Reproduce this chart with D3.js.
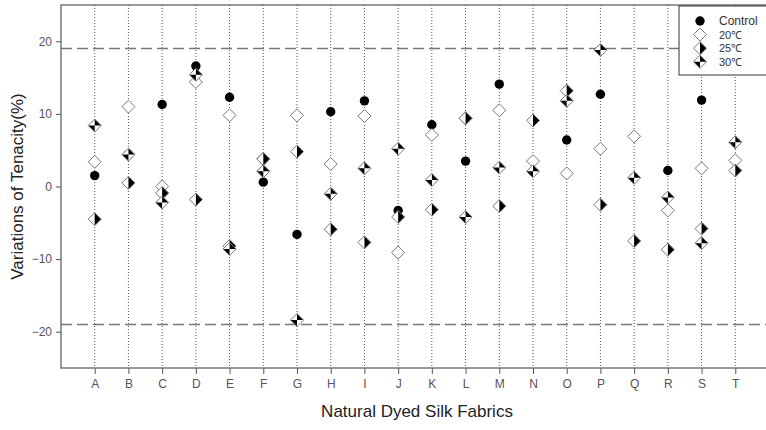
<!DOCTYPE html>
<html>
<head>
<meta charset="utf-8">
<script src="https://cdn.jsdelivr.net/npm/d3@7"></script>
<style>
	body { margin:0; background:#fff; }
	#chart { width:766px; height:430px; }
	text { font-family: "Liberation Sans", Arial, sans-serif; }
</style>
</head>
<body>
<div id="chart"></div>
<script>
var categories = ["A","B","C","D","E","F","G","H","I","J","K","L","M","N","O","P","Q","R","S","T"];
var control = [1.5, 4.4, 11.3, 16.6, 12.3, 0.6, -6.6, 10.3, 11.8, -3.3, 8.5, 3.5, 14.1, 2.1, 6.4, 12.7, 1.2, 2.2, 11.9, 2.2];
var t20 = [3.4, 11.0, 0.0, 14.4, 9.8, 3.8, 9.8, 3.1, 9.7, -9.1, 7.1, 9.4, 10.5, 3.5, 1.8, 5.2, 6.9, -3.3, 2.5, 3.6];
var t25 = [-4.5, 0.5, -0.9, -1.8, -8.2, 3.8, 4.8, -5.9, -7.7, -4.2, -3.2, 9.4, -2.7, 9.1, 13.2, -2.5, -7.5, -8.7, -5.8, 2.2];
var t30 = [8.4, 4.4, -2.2, 15.4, -8.6, 2.1, -18.4, -1.0, 2.5, 5.2, 0.9, -4.2, 2.6, 2.1, 11.8, 18.8, 1.2, -1.5, -7.8, 6.1];
var yTicks = [-20, -10, 0, 10, 20];
var limits = [19, -19];
var legendLabels = ["Control", "20\u2103", "25\u2103", "30\u2103"];

var dom = document.getElementById('chart');
var width = 766, height = 430;

var svg = d3.select(dom)
	.append("svg")
	.attr("width", width)
	.attr("height", height);

var padding = {left:61, right:-3, top:5, bottom:62};

var xScale = d3.scalePoint()
	.domain(categories)
	.range([padding.left, width - padding.right])
	.padding(1);

var yScale = d3.scaleLinear()
	.domain([-25, 25])
	.range([height - padding.bottom, padding.top]);

// dotted guide per fabric
svg.append("g")
	.selectAll("line")
	.data(categories)
	.enter()
	.append("line")
	.attr("x1", function(d){ return xScale(d); })
	.attr("x2", function(d){ return xScale(d); })
	.attr("y1", padding.top)
	.attr("y2", height - padding.bottom)
	.attr("stroke", "#555")
	.attr("stroke-width", 1)
	.attr("stroke-dasharray", "1,2");

// +-19 dashed lines
svg.append("g")
	.selectAll("line")
	.data(limits)
	.enter()
	.append("line")
	.attr("x1", padding.left)
	.attr("x2", width)
	.attr("y1", function(d){ return yScale(d); })
	.attr("y2", function(d){ return yScale(d); })
	.attr("stroke", "#777")
	.attr("stroke-width", 1.5)
	.attr("stroke-dasharray", "11,5");

// frame
svg.append("rect")
	.attr("x", padding.left)
	.attr("y", padding.top)
	.attr("width", width - padding.left + 10)
	.attr("height", height - padding.bottom - padding.top)
	.attr("fill", "none")
	.attr("stroke", "#555")
	.attr("stroke-width", 1.2);

var xAxis = d3.axisBottom()
	.scale(xScale)
	.tickSizeInner(6)
	.tickSizeOuter(0)
	.tickPadding(5);

var yAxis = d3.axisLeft()
	.scale(yScale)
	.tickValues(yTicks)
	.tickSizeInner(5)
	.tickSizeOuter(0)
	.tickPadding(4);

var gx = svg.append("g")
	.attr("transform", "translate(0," + (height - padding.bottom) + ")")
	.call(xAxis);
var gy = svg.append("g")
	.attr("transform", "translate(" + padding.left + ",0)")
	.call(yAxis);

[gx, gy].forEach(function(g){
	g.select(".domain").remove();
	g.selectAll("line").attr("stroke", "#555");
	g.selectAll("text")
		.attr("fill", "#555")
		.style("font-size", "12px")
		.style("font-family", "'Liberation Sans', Arial, sans-serif");
});

svg.append("text")
	.attr("x", 417)
	.attr("y", 417)
	.attr("text-anchor", "middle")
	.attr("fill", "#222")
	.style("font-size", "17px")
	.text("Natural Dyed Silk Fabrics");

svg.append("text")
	.attr("transform", "translate(23," + yScale(0) + ") rotate(-90)")
	.attr("text-anchor", "middle")
	.attr("fill", "#222")
	.style("font-size", "17px")
	.text("Variations of Tenacity(%)");

// marker shapes
var r = 6.5;
function diamond(){ return "M0," + (-r) + "L" + r + ",0L0," + r + "L" + (-r) + ",0Z"; }

function drawMarker(g, kind){
	if(kind == 0){
		g.append("circle").attr("r", 4.7).attr("fill", "#000");
		return;
	}
	g.append("path").attr("d", diamond()).attr("fill", "#fff");
	if(kind == 2){
		g.append("path").attr("d", "M0," + (-r) + "L" + r + ",0L0," + r + "Z").attr("fill", "#000");
	}
	if(kind == 3){
		g.append("path").attr("d", "M0," + (-r) + "L" + r + ",0L0,0Z").attr("fill", "#000");
		g.append("path").attr("d", "M0," + r + "L" + (-r) + ",0L0,0Z").attr("fill", "#000");
	}
	g.append("path").attr("d", diamond())
		.attr("fill", "none")
		.attr("stroke", "#777")
		.attr("stroke-width", 1);
}

var series = [control, t20, t25, t30];
series.forEach(function(values, k){
	svg.append("g")
		.selectAll("g")
		.data(values)
		.enter()
		.append("g")
		.attr("transform", function(d, i){
			return "translate(" + xScale(categories[i]) + "," + yScale(d) + ")";
		})
		.each(function(){ drawMarker(d3.select(this), k); });
});

// legend
var legend = svg.append("g");
legend.append("rect")
	.attr("x", 679)
	.attr("y", 6)
	.attr("width", 95)
	.attr("height", 69)
	.attr("fill", "#fff")
	.attr("stroke", "#333")
	.attr("stroke-width", 1);

legend.selectAll("g")
	.data(legendLabels)
	.enter()
	.append("g")
	.attr("transform", function(d, i){ return "translate(700," + (21 + i * 13.6) + ")"; })
	.each(function(d, i){
		drawMarker(d3.select(this), i);
		d3.select(this).append("text")
			.attr("x", 19)
			.attr("y", 4)
			.attr("fill", "#333")
			.style("font-size", i == 0 ? "12px" : "11px")
			.text(d);
	});
</script>
</body>
</html>
